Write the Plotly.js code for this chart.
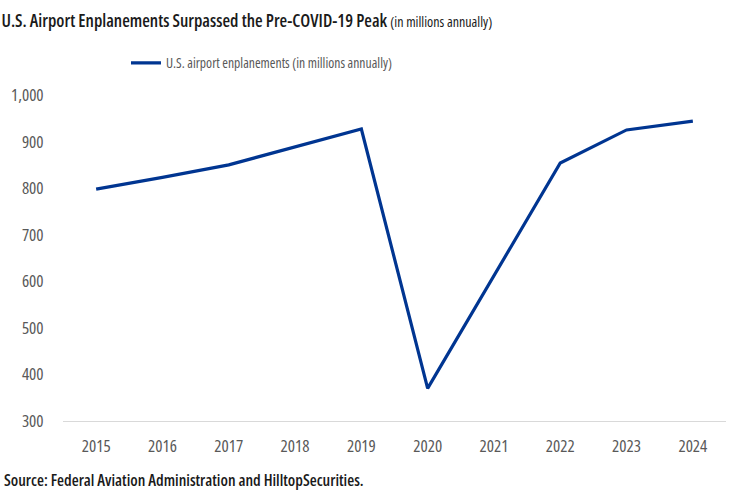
<!DOCTYPE html>
<html>
<head>
<meta charset="utf-8">
<script src="https://cdn.plot.ly/plotly-3.0.1.min.js"></script>
<style>
html,body{margin:0;padding:0;background:#fff;}
#chart{width:729px;height:495px;}
text, tspan{font-stretch:75% !important;}
</style>
</head>
<body>
<div id="chart"></div>
<script>
const years = ['2015','2016','2017','2018','2019','2020','2021','2022','2023','2024'];
const enplanements = [798, 823, 850, 889, 927, 370, 612, 854, 925, 944];
const yTicks = [300, 400, 500, 600, 700, 800, 900, 1000];
const seriesName = 'U.S. airport enplanements (in millions annually)';
const titleMain = 'U.S. Airport Enplanements Surpassed the Pre-COVID-19 Peak';
const titleSub = '(in millions annually)';
const sourceText = 'Source: Federal Aviation Administration and HilltopSecurities.';

const FONT = '"Open Sans", "Roboto Condensed", sans-serif';

const trace = {
  x: years, y: enplanements, type: 'scatter', mode: 'lines',
  name: seriesName,
  line: {color: '#003591', width: 3.2}
};

const layout = {
  width: 729, height: 495,
  margin: {l: 63, r: 3, t: 95, b: 74},
  paper_bgcolor: '#fff', plot_bgcolor: '#fff',
  font: {family: FONT, color: '#595959', size: 15},
  title: {
    text: titleMain + ' <span style="font-size:14px;font-weight:400">' + titleSub + '</span>',
    x: 0.002, xref: 'container', xanchor: 'left',
    y: 0.958, yref: 'container', yanchor: 'middle',
    font: {family: FONT, size: 17.5, color: '#1a1a1a', weight: 600}
  },
  showlegend: true,
  legend: {
    orientation: 'h', x: 0.095, xanchor: 'left', y: 1.098, yanchor: 'middle',
    font: {family: FONT, size: 13.7, color: '#595959'},
    itemwidth: 30, bgcolor: 'rgba(0,0,0,0)'
  },
  xaxis: {
    type: 'category', range: [-0.5, 9.5],
    showgrid: false, zeroline: false,
    showline: true, linecolor: '#d9d9d9', linewidth: 1,
    ticks: 'outside', ticklen: 10, tickcolor: 'rgba(0,0,0,0)',
    tickfont: {family: FONT, size: 17, color: '#595959'}
  },
  yaxis: {
    range: [300, 1000], tickvals: yTicks,
    tickformat: ',d',
    showgrid: false, zeroline: false, showline: false,
    ticks: 'outside', ticklen: 15, tickcolor: 'rgba(0,0,0,0)',
    tickfont: {family: FONT, size: 17, color: '#595959'}
  },
  annotations: [{
    text: sourceText,
    xref: 'paper', yref: 'paper', x: -0.092, y: -0.181,
    xanchor: 'left', yanchor: 'middle', showarrow: false,
    font: {family: FONT, size: 16, color: '#1a1a1a', weight: 600}
  }]
};

Plotly.newPlot('chart', [trace], layout, {displayModeBar: false, staticPlot: true});
</script>
</body>
</html>
